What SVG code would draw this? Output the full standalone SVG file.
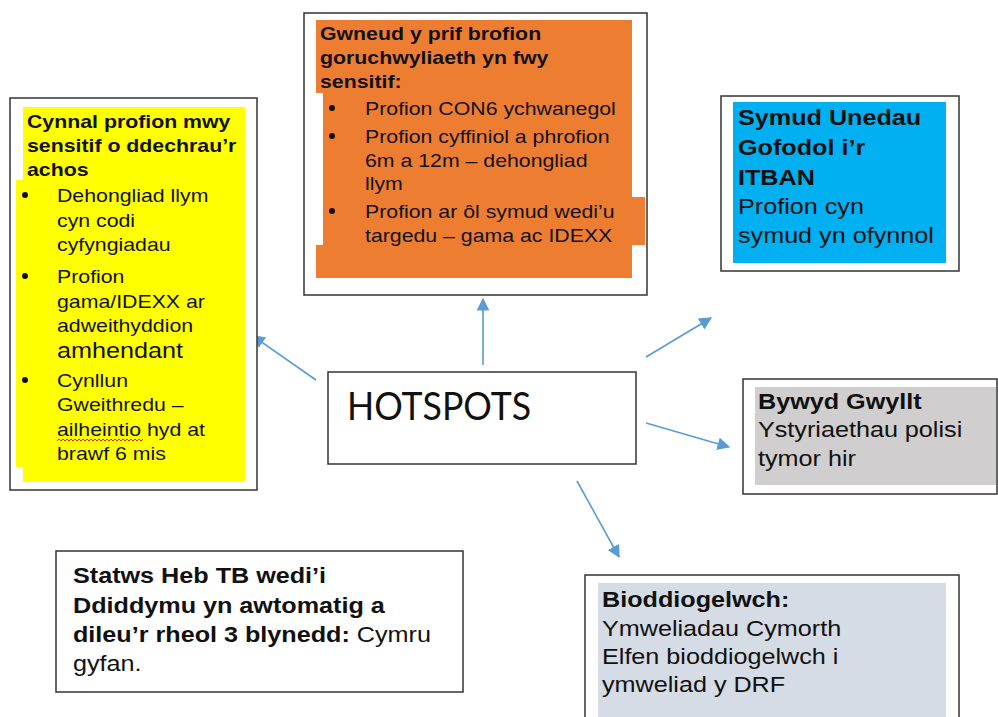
<svg xmlns="http://www.w3.org/2000/svg" width="998" height="717" viewBox="0 0 998 717">
<defs>
<style>
.frame{fill:#fff;stroke:#333;stroke-width:1.5}
.t{font-family:"Liberation Sans",Arial,sans-serif;fill:#111}
.b{font-weight:bold}
.s19{font-size:18.6px}
.s22{font-size:22px}
.conn{stroke:#5B9BD5;stroke-width:1.6;fill:none;marker-end:url(#ah)}
.dot{fill:#111}
</style>
<marker id="ah" viewBox="0 0 10 10" refX="9" refY="5" markerWidth="8" markerHeight="8" markerUnits="strokeWidth" orient="auto">
<path d="M0,0 L10,5 L0,10 z" fill="#5B9BD5"/>
</marker>
</defs>
<rect width="998" height="717" fill="#fff"/>

<g id="connectors">
<line class="conn" x1="316" y1="380" x2="253" y2="336"/>
<line class="conn" x1="483" y1="365" x2="483" y2="299"/>
<line class="conn" x1="646" y1="357" x2="711" y2="318"/>
<line class="conn" x1="646" y1="423" x2="729" y2="447"/>
<line class="conn" x1="577" y1="481" x2="619" y2="557"/>
</g>

<g id="hotspots">
<rect class="frame" x="328" y="372" width="308" height="92"/>
<text x="347" y="420" font-family="Lato,'Open Sans',sans-serif" font-size="38" fill="#111" textLength="184" lengthAdjust="spacingAndGlyphs">HOTSPOTS</text>
</g>

<g id="node-yellow">
<rect class="frame" x="10" y="98" width="247" height="392"/>
<path d="M23,107 H245 V482 H23 V467 H16 V180 H23 Z" fill="#FFFF00"/>
<text class="t b s19" transform="translate(27 0) scale(1.145 1)">
<tspan x="0" y="128">Cynnal profion mwy</tspan>
<tspan x="0" y="152">sensitif o ddechrau’r</tspan>
<tspan x="0" y="176">achos</tspan>
</text>
<circle class="dot" cx="25" cy="195" r="3"/>
<circle class="dot" cx="25" cy="276" r="3"/>
<circle class="dot" cx="25" cy="380" r="3"/>
<text class="t s19" transform="translate(57 0) scale(1.145 1)">
<tspan x="0" y="202">Dehongliad llym</tspan>
<tspan x="0" y="227">cyn codi</tspan>
<tspan x="0" y="251">cyfyngiadau</tspan>
<tspan x="0" y="283">Profion</tspan>
<tspan x="0" y="308">gama/IDEXX ar</tspan>
<tspan x="0" y="332">adweithyddion</tspan>
<tspan x="0" y="358" style="font-size:22px">amhendant</tspan>
<tspan x="0" y="387">Cynllun</tspan>
<tspan x="0" y="411">Gweithredu –</tspan>
<tspan x="0" y="436">ailheintio hyd at</tspan>
<tspan x="0" y="460">brawf 6 mis</tspan>
</text>
<path d="M57,441 l2,-2 l2,2 l2,-2 l2,2 l2,-2 l2,2 l2,-2 l2,2 l2,-2 l2,2 l2,-2 l2,2 l2,-2 l2,2 l2,-2 l2,2 l2,-2 l2,2 l2,-2 l2,2 l2,-2 l2,2 l2,-2 l2,2 l2,-2 l2,2 l2,-2 l2,2 l2,-2 l2,2 l2,-2 l2,2 l2,-2 l2,2 l2,-2 l2,2 l2,-2 l2,2 l2,-2 l2,2 l2,-2 l2,2 l2,-2" fill="none" stroke="#E02020" stroke-width="1"/>
</g>

<g id="node-orange">
<rect class="frame" x="304" y="13" width="343" height="282"/>
<path d="M316,20 H632 V197 H645 V245 H632 V278 H316 V245 H323 V93 H316 Z" fill="#ED7D31"/>
<text class="t b s19" transform="translate(320 0) scale(1.145 1)">
<tspan x="0" y="40">Gwneud y prif brofion</tspan>
<tspan x="0" y="64">goruchwyliaeth yn fwy</tspan>
<tspan x="0" y="88">sensitif:</tspan>
</text>
<circle class="dot" cx="332" cy="108" r="3"/>
<circle class="dot" cx="332" cy="136" r="3"/>
<circle class="dot" cx="332" cy="211" r="3"/>
<text class="t s19" transform="translate(365 0) scale(1.145 1)">
<tspan x="0" y="115">Profion CON6 ychwanegol</tspan>
<tspan x="0" y="143">Profion cyffiniol a phrofion</tspan>
<tspan x="0" y="167">6m a 12m – dehongliad</tspan>
<tspan x="0" y="190">llym</tspan>
<tspan x="0" y="218">Profion ar ôl symud wedi’u</tspan>
<tspan x="0" y="242">targedu – gama ac IDEXX</tspan>
</text>
</g>

<g id="node-blue">
<rect class="frame" x="721" y="96" width="238" height="175"/>
<rect x="733" y="102" width="213" height="161" fill="#00B0F0"/>
<text class="t b s22" transform="translate(738 0) scale(1.145 1)">
<tspan x="0" y="125">Symud Unedau</tspan>
<tspan x="0" y="155">Gofodol i’r</tspan>
<tspan x="0" y="185">ITBAN</tspan>
</text>
<text class="t s22" transform="translate(738 0) scale(1.145 1)">
<tspan x="0" y="214">Profion cyn</tspan>
<tspan x="0" y="243">symud yn ofynnol</tspan>
</text>
</g>

<g id="node-grey">
<rect class="frame" x="743" y="379" width="254" height="115"/>
<rect x="755" y="387" width="241" height="98" fill="#D0CECE"/>
<text class="t b s22" transform="translate(758 0) scale(1.145 1)">
<tspan x="0" y="409">Bywyd Gwyllt</tspan>
</text>
<text class="t s22" transform="translate(758 0) scale(1.145 1)">
<tspan x="0" y="437">Ystyriaethau polisi</tspan>
<tspan x="0" y="466">tymor hir</tspan>
</text>
</g>

<g id="node-bio">
<rect class="frame" x="585" y="575" width="374" height="150"/>
<rect x="598" y="583" width="348" height="134" fill="#D6DCE5"/>
<text class="t b s22" transform="translate(602 0) scale(1.145 1)">
<tspan x="0" y="607">Bioddiogelwch:</tspan>
</text>
<text class="t s22" transform="translate(602 0) scale(1.145 1)">
<tspan x="0" y="636">Ymweliadau Cymorth</tspan>
<tspan x="0" y="664">Elfen bioddiogelwch i</tspan>
<tspan x="0" y="692">ymweliad y DRF</tspan>
</text>
</g>

<g id="node-status">
<rect class="frame" x="56" y="551" width="407" height="141"/>
<text class="t s22" transform="translate(73 0) scale(1.145 1)">
<tspan x="0" y="583" class="b">Statws Heb TB wedi’i</tspan>
<tspan x="0" y="613" class="b">Ddiddymu yn awtomatig a</tspan>
<tspan x="0" y="642"><tspan class="b">dileu’r rheol 3 blynedd:</tspan> Cymru</tspan>
<tspan x="0" y="671">gyfan.</tspan>
</text>
</g>
</svg>
